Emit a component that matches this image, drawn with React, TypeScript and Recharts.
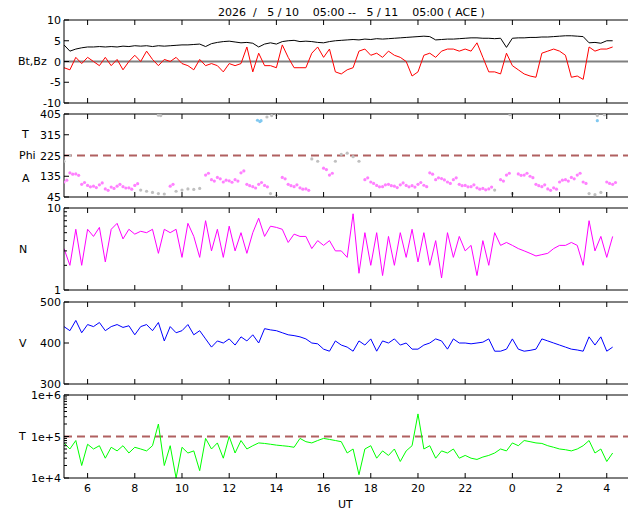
import React from 'react';
import { ComposedChart, Line, Scatter, XAxis, YAxis, ReferenceLine } from 'recharts';

const T0 = 5;
const STEP = 0.25;
const hourTicks = [6, 8, 10, 12, 14, 16, 18, 20, 22, 24, 26, 28];

const bt = [4, 2.5, 3, 3.3, 3.5, 3.5, 3.6, 3.5, 3.6, 3.5, 3.7, 3.6, 3.8, 3.7, 3.8, 3.6, 3.8, 3.7, 3.8, 3.9, 4, 4, 4.1, 4.2, 3.6, 4.3, 4.6, 4.8, 4.9, 4.7, 4.5, 4.6, 4.4, 3.5, 4.2, 4.5, 4.2, 4.8, 5, 5.1, 4.8, 4.9, 4.8, 4.6, 4.5, 4.8, 5, 5.1, 5.2, 5.3, 5.2, 5.4, 5.3, 5.5, 5.4, 5.5, 5.6, 5.7, 5.8, 5.9, 6, 6.1, 6, 5.2, 5.3, 5.4, 5.4, 5.5, 5.6, 5.7, 5.7, 5.6, 5.6, 5.5, 5.6, 3.4, 5.6, 5.7, 5.7, 5.8, 5.8, 5.9, 5.9, 6, 6.1, 6.2, 6.2, 6.1, 6, 4.5, 4.6, 4.4, 5, 5];
const bz = [-1.5, -2, 1, -0.5, 1, 0, -1, 1, -1, 0.5, -2, 0, 1.5, 0, 2.5, 0.5, -1, 0.5, 0, 1, -0.5, -1, -2, 0.5, -1, -0.5, -1, -2.5, -0.5, -1, -0.5, 3.5, -2.5, 2, -1, -1, -1.5, 4, 1, -1.5, -1.5, -1.5, 2, 3.5, 1, 3, -2.5, -3, -2, -1.5, 2.5, 3, 1.5, 2, 1, 2.5, 1.5, 1, 0, -3.5, -2.5, 1.5, 2, 1, 2.5, 3, 3, 2.5, 3, 2.5, 4.5, 1, -2.5, -2.5, -3, 2, -1, -2, -3, -3.5, -3.8, 2, 2.5, 3, 2.5, 1.5, -3.8, -3.5, -4.3, 3.5, 2.5, 3, 3, 3.5];
const phiPink = [110, 150, 145, 100, 95, 92, 98, 80, 88, 92, 90, 85, 95, 0, 0, 0, 0, 0, 92, 0, 0, 0, 0, 0, 140, 120, 130, 110, 115, 120, 150, 100, 90, 100, 95, 0, 0, 130, 100, 90, 85, 80, 0, 0, 170, 140, 0, 0, 0, 0, 0, 120, 110, 95, 90, 100, 92, 98, 95, 94, 100, 96, 150, 120, 125, 110, 120, 100, 95, 90, 85, 82, 80, 0, 120, 140, 0, 145, 140, 135, 100, 90, 80, 85, 110, 120, 130, 140, 110, 0, 0, 0, 110, 100];
const phiGray = [200, 225, 0, 0, 0, 0, 0, 0, 0, 0, 0, 0, 0, 75, 70, 65, 60, 58, 0, 70, 75, 80, 78, 82, 0, 0, 0, 0, 0, 0, 0, 0, 0, 0, 0, 60, 50, 0, 0, 0, 0, 0, 210, 200, 0, 0, 200, 230, 235, 220, 200, 0, 0, 0, 0, 0, 0, 0, 0, 0, 0, 0, 0, 0, 0, 0, 0, 0, 0, 0, 0, 0, 0, 75, 0, 0, 60, 0, 0, 0, 0, 0, 0, 0, 0, 0, 0, 0, 0, 60, 55, 65, 0, 0];
const phiTopGray = [[9.0, 400], [9.1, 398], [13.6, 392], [13.8, 398], [14.0, 403], [23.9, 402], [27.6, 398], [27.9, 402]];
const phiBlue = [[13.2, 378], [13.3, 372], [13.35, 376], [27.6, 376]];
const dens = [3.2, 2.0, 5.5, 2.0, 5.5, 4.5, 5.8, 2.2, 5.5, 6.5, 4.2, 5.5, 4.8, 5.2, 5.0, 5.5, 2.8, 5.5, 5.0, 5.5, 2.5, 6.5, 4.5, 2.5, 7.0, 3.0, 5.5, 2.5, 6.0, 3.0, 5.0, 2.8, 5.0, 7.5, 4.5, 6.0, 5.8, 5.5, 3.8, 4.8, 4.5, 4.5, 3.2, 4.0, 3.5, 4.0, 3.0, 3.0, 2.5, 8.5, 1.6, 5.0, 2.0, 5.0, 1.5, 4.5, 2.0, 5.0, 2.5, 5.5, 2.2, 5.0, 2.0, 4.0, 1.4, 5.0, 2.5, 4.5, 3.0, 3.5, 1.5, 4.0, 2.0, 5.0, 3.5, 3.8, 3.5, 3.2, 3.0, 2.8, 2.6, 2.7, 2.8, 3.2, 3.5, 3.5, 3.8, 3.5, 2.0, 7.0, 3.0, 4.5, 2.5, 4.5];
const speed = [440, 430, 455, 425, 445, 440, 450, 430, 440, 445, 438, 442, 420, 440, 445, 430, 450, 405, 440, 425, 430, 445, 420, 430, 410, 390, 405, 400, 410, 395, 415, 405, 420, 400, 435, 432, 430, 425, 420, 418, 415, 410, 400, 398, 385, 380, 405, 395, 390, 380, 405, 395, 410, 380, 405, 400, 410, 395, 400, 385, 385, 395, 400, 410, 405, 385, 410, 400, 400, 398, 400, 402, 410, 380, 380, 385, 410, 385, 380, 382, 385, 410, 405, 400, 395, 390, 385, 383, 380, 415, 395, 415, 380, 390];
const temp = [70000, 50000, 80000, 20000, 65000, 50000, 60000, 30000, 55000, 45000, 60000, 40000, 55000, 50000, 45000, 60000, 200000, 20000, 60000, 10000, 55000, 40000, 45000, 15000, 90000, 50000, 70000, 30000, 100000, 40000, 80000, 50000, 60000, 70000, 68000, 65000, 62000, 60000, 58000, 55000, 90000, 75000, 70000, 80000, 90000, 85000, 80000, 75000, 40000, 50000, 12000, 50000, 60000, 30000, 45000, 35000, 50000, 25000, 45000, 60000, 350000, 50000, 60000, 30000, 45000, 40000, 50000, 30000, 35000, 30000, 28000, 32000, 35000, 40000, 50000, 45000, 70000, 60000, 80000, 75000, 70000, 68000, 60000, 55000, 50000, 48000, 45000, 50000, 60000, 80000, 40000, 50000, 25000, 40000];

const tAt = (i: number) => T0 + i * STEP;
const data1 = bt.map((v, i) => ({ t: tAt(i), bt: v, bz: bz[i] }));
const data3 = dens.map((v, i) => ({ t: tAt(i), n: v }));
const data4 = speed.map((v, i) => ({ t: tAt(i), v }));
const data5 = temp.map((v, i) => ({ t: tAt(i), temp: v }));
const pinkPts = phiPink.map((v, i) => ({ t: tAt(i), p: v })).filter(d => d.p > 0);
const pinkPts2 = phiPink.map((v, i) => ({ t: tAt(i) + 0.12, p: v + (i % 3 === 0 ? 8 : -6) })).filter(d => d.p > 10);
const grayPts = phiGray.map((v, i) => ({ t: tAt(i), p: v })).filter(d => d.p > 0)
  .concat(phiTopGray.map(([t, p]) => ({ t, p })));
const bluePts = phiBlue.map(([t, p]) => ({ t, p }));

const FONT = 'DejaVu Sans, sans-serif';
const W = 640;
const L = 64;
const R = 12;

const dot = (color: string) => (props: any) => <circle cx={props.cx} cy={props.cy} r={1.6} fill={color} />;

const hourLabel = (h: number) => String(h % 24);

const BottomTick = (show: boolean) => (props: any) => {
  const { x, y, payload } = props;
  return (
    <g>
      <line x1={x} x2={x} y1={y} y2={y - 5} stroke="#000" />
      {show && <text x={x} y={y + 14} textAnchor="middle" fontSize={11} fontFamily={FONT} fill="#000">{hourLabel(payload.value)}</text>}
    </g>
  );
};
const TopTick = (props: any) => {
  const { x, y } = props;
  return <line x1={x} x2={x} y1={y} y2={y + 5} stroke="#000" />;
};
const LeftTick = (labelFn: (v: number) => string | null) => (props: any) => {
  const { x, y, payload } = props;
  const lab = labelFn(payload.value);
  return (
    <g>
      <line x1={x} x2={x + (lab === null ? 3 : 5)} y1={y} y2={y} stroke="#000" />
      {lab !== null && <text x={x - 3} y={y + 4} textAnchor="end" fontSize={11} fontFamily={FONT} fill="#000">{lab}</text>}
    </g>
  );
};
const RightTick = (labelFn: (v: number) => string | null) => (props: any) => {
  const { x, y, payload } = props;
  const lab = labelFn(payload.value);
  return <line x1={x} x2={x - (lab === null ? 3 : 5)} y1={y} y2={y} stroke="#000" />;
};

type PanelProps = {
  top: number; height: number; data: any[]; domain: [number, number]; ticks: number[];
  labelFn: (v: number) => string | null; log?: boolean; showX?: boolean; children: React.ReactNode;
};

const Panel = ({ top, height, data, domain, ticks, labelFn, log, showX, children }: PanelProps) => (
  <div style={{ position: 'absolute', left: 0, top: top - 10 }}>
    <ComposedChart width={W} height={height + 31} data={data} margin={{ top: 9, right: R, bottom: 20, left: 0 }}>
      <XAxis dataKey="t" type="number" domain={[5, 28.9]} ticks={hourTicks} allowDataOverflow height={1}
        tickSize={0} tickMargin={0} tickLine={false} axisLine={{ stroke: '#000' }} tick={BottomTick(!!showX)} interval={0} />
      <XAxis xAxisId="top" orientation="top" dataKey="t" type="number" domain={[5, 28.9]} ticks={hourTicks} allowDataOverflow height={1}
        tickSize={0} tickMargin={0} tickLine={false} axisLine={{ stroke: '#000' }} tick={TopTick} interval={0} />
      <YAxis width={L} domain={domain} ticks={ticks} scale={log ? 'log' : 'linear'} allowDataOverflow type="number"
        tickSize={0} tickMargin={0} tickLine={false} axisLine={{ stroke: '#000' }} tick={LeftTick(labelFn)} interval={0} />
      <YAxis yAxisId="r" orientation="right" width={0} domain={domain} ticks={ticks} scale={log ? 'log' : 'linear'} allowDataOverflow type="number"
        tickSize={0} tickMargin={0} tickLine={false} axisLine={{ stroke: '#000' }} tick={RightTick(labelFn)} interval={0} />
      {children}
    </ComposedChart>
  </div>
);

const lab = (s: string, x: number, y: number, extra: any = {}) => (
  <div style={{ position: 'absolute', left: x, top: y, fontSize: 11, fontFamily: FONT, color: '#000', whiteSpace: 'pre', lineHeight: '13px', ...extra }}>{s}</div>
);

const minorN = [1, 2, 3, 4, 5, 6, 7, 8, 9, 10];
const minorT = [1e4, 2e4, 3e4, 4e4, 5e4, 6e4, 7e4, 8e4, 9e4, 1e5, 2e5, 3e5, 4e5, 5e5, 6e5, 7e5, 8e5, 9e5, 1e6];

export default function App() {
  return (
    <div style={{ position: 'absolute', left: 0, top: 0, width: 640, height: 512, background: '#fff' }}>
      {lab('2026  /   5 / 10    05:00 --   5 / 11    05:00 ( ACE )', 218, 6)}
      <Panel top={20} height={83} data={data1} domain={[-10, 10]} ticks={[-10, -5, 0, 5, 10]} labelFn={v => String(v)}>
        <ReferenceLine y={0} stroke="#808080" strokeWidth={2} />
        <Line dataKey="bt" stroke="#000" strokeWidth={1} dot={false} isAnimationActive={false} />
        <Line dataKey="bz" stroke="#ff0000" strokeWidth={1} dot={false} isAnimationActive={false} />
      </Panel>
      <Panel top={114} height={83} data={[]} domain={[45, 405]} ticks={[45, 135, 225, 315, 405]} labelFn={v => String(v)}>
        <ReferenceLine y={225} stroke="#b06060" strokeWidth={2} strokeDasharray="8 5" />
        <Scatter data={grayPts} dataKey="p" shape={dot('#c0c0c0')} isAnimationActive={false} />
        <Scatter data={pinkPts} dataKey="p" shape={dot('#ff80ff')} isAnimationActive={false} />
        <Scatter data={pinkPts2} dataKey="p" shape={dot('#ff80ff')} isAnimationActive={false} />
        <Scatter data={bluePts} dataKey="p" shape={dot('#80c8f0')} isAnimationActive={false} />
      </Panel>
      <Panel top={208} height={82} data={data3} domain={[1, 10]} ticks={minorN} log labelFn={v => (v === 1 || v === 10 ? String(v) : null)}>
        <Line dataKey="n" stroke="#ff00ff" strokeWidth={1} dot={false} isAnimationActive={false} />
      </Panel>
      <Panel top={302} height={82} data={data4} domain={[300, 500]} ticks={[300, 400, 500]} labelFn={v => String(v)}>
        <Line dataKey="v" stroke="#0000ff" strokeWidth={1} dot={false} isAnimationActive={false} />
      </Panel>
      <Panel top={395} height={83} data={data5} domain={[1e4, 1e6]} ticks={minorT} log showX
        labelFn={v => (v === 1e4 ? '1e+4' : v === 1e5 ? '1e+5' : v === 1e6 ? '1e+6' : null)}>
        <ReferenceLine y={1e5} stroke="#b06060" strokeWidth={2} strokeDasharray="8 5" />
        <Line dataKey="temp" stroke="#00ff00" strokeWidth={1} dot={false} isAnimationActive={false} />
      </Panel>
      {lab('Bt,Bz', 18, 55)}
      {lab('T', 22, 128)}
      {lab('Phi', 19, 149)}
      {lab('A', 22, 172)}
      {lab('N', 19, 243)}
      {lab('V', 19, 337)}
      {lab('T', 19, 430)}
      {lab('UT', 338, 498)}
    </div>
  );
}
